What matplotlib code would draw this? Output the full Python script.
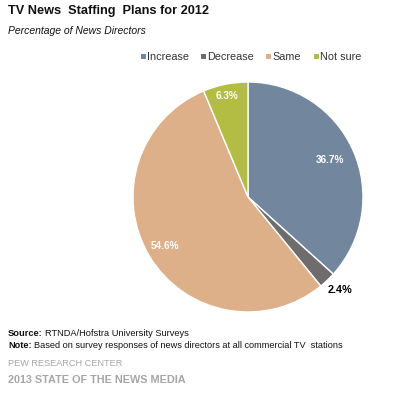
import matplotlib
matplotlib.use("Agg")
import matplotlib.pyplot as plt
from matplotlib.patches import Rectangle

categories = ["Increase", "Decrease", "Same", "Not sure"]
values = [36.7, 2.4, 54.6, 6.3]
labels = ["36.7%", "2.4%", "54.6%", "6.3%"]
colors = ["#72879E", "#6E6C6D", "#DDB08A", "#B3BD44"]

W, H = 408, 397
fig = plt.figure(figsize=(W/100, H/100), dpi=100)
fig.patch.set_facecolor("white")
plt.rcParams['font.family'] = ['Liberation Sans', 'DejaVu Sans']

# pie axes: center (248,197), radius 115
cx, cy, r = 248, 197, 115
ax = fig.add_axes([(cx - r)/W, 1 - (cy + r)/H, 2*r/W, 2*r/H])
wedges, _ = ax.pie(values, colors=colors, startangle=90, counterclock=False,
                   wedgeprops=dict(edgecolor="white", linewidth=1.0), radius=1.0)
ax.set_xlim(-1, 1); ax.set_ylim(-1, 1)
ax.set_aspect('auto')

def fy(y):
    return 1 - y / H

label_pos = [(330, 160), (340, 290), (165, 246), (227, 96)]
label_col = ["white", "black", "white", "white"]
label_s = [7.2, 7.8, 7.2, 7.2]
for (x, y), t, c, s in zip(label_pos, labels, label_col, label_s):
    fig.text(x/W, fy(y), t, color=c, fontsize=s, fontweight="bold",
             ha="center", va="center", zorder=10)

fig.text(8/W, fy(11), "TV News  Staffing  Plans for 2012", fontsize=9.2, fontweight="bold",
         va="center", ha="left", color="#111111")
fig.text(8/W, fy(31), "Percentage of News Directors", fontsize=7.5, style="italic",
         va="center", ha="left", color="#111111")

# legend
leg_items = [(141, "Increase"), (201, "Decrease"), (266, "Same"), (314, "Not sure")]
for (x, name), col in zip(leg_items, colors):
    fig.patches.append(Rectangle((x/W, fy(59)), 5/W, 5/H, transform=fig.transFigure,
                                 facecolor=col, edgecolor="none"))
    fig.text((x + 6)/W, fy(56.5), name, fontsize=7.8, va="center", ha="left", color="#333333")

renderer = fig.canvas.get_renderer()
def bold_lead(y, bold, rest, size):
    t = fig.text(8/W, fy(y), bold, fontsize=size, fontweight="bold", va="center",
                 ha="left", color="#111111")
    bb = t.get_window_extent(renderer=renderer)
    fig.text((bb.x1 + 2)/W, fy(y), rest, fontsize=size, va="center", ha="left",
             color="#111111")

bold_lead(333, "Source:", "RTNDA/Hofstra University Surveys", 6.7)
bold_lead(346, "Note:", "Based on survey responses of news directors at all commercial TV  stations", 6.6)
fig.text(8/W, fy(364), "PEW RESEARCH CENTER", fontsize=6.6, va="center", ha="left", color="#A6A6A6")
fig.text(8/W, fy(380), "2013 STATE OF THE NEWS MEDIA", fontsize=7.8, fontweight="bold",
         va="center", ha="left", color="#A6A6A6")

fig.savefig("out.png", dpi=100, facecolor="white")
